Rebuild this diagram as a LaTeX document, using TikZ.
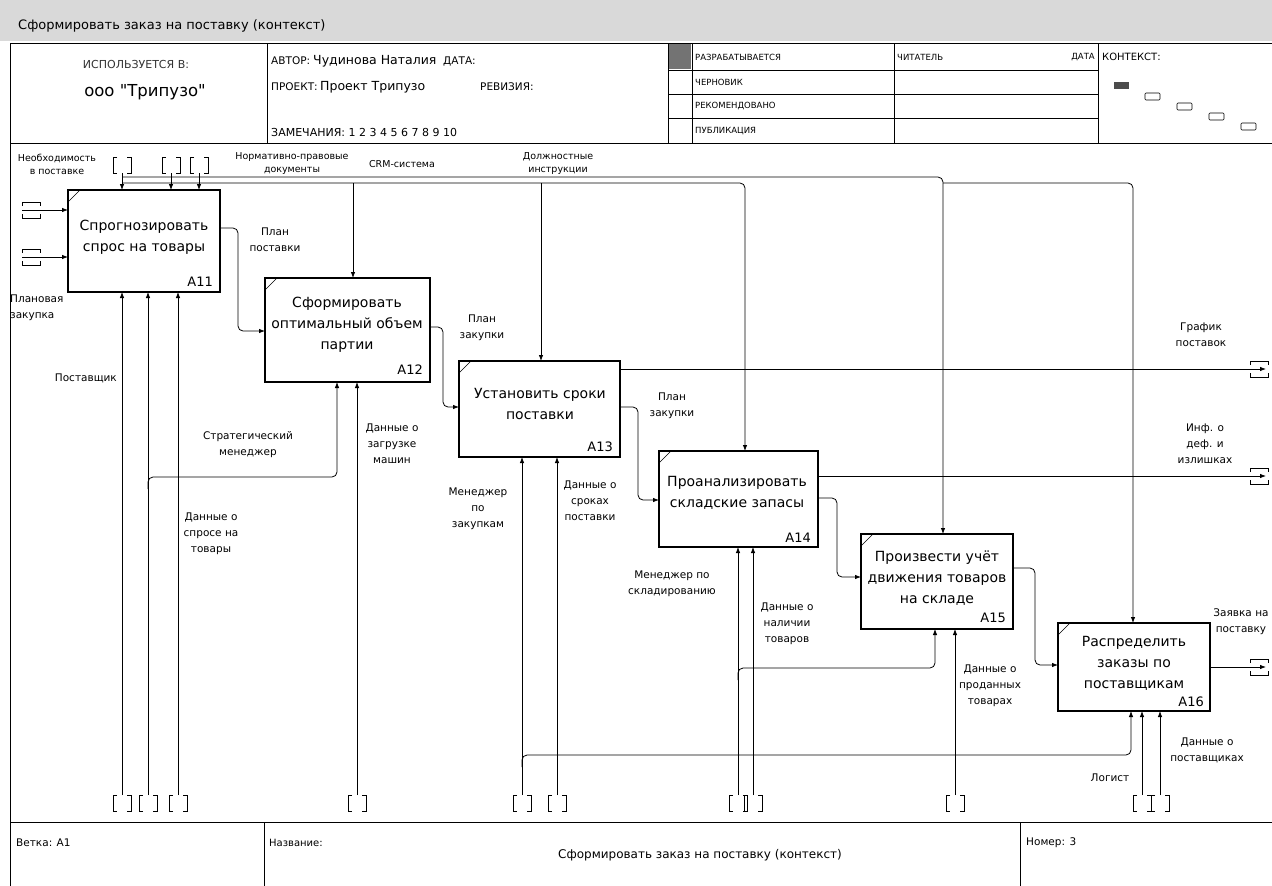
\documentclass[tikz,border=0pt]{standalone}
\usepackage{fontspec}
\setmainfont{DejaVu Sans}[Ligatures=TeXOff]
\usetikzlibrary{arrows.meta}

\tikzset{
  wire/.style={draw=black, line width=0.8pt},
  arr/.style={wire, -{Latex[length=6pt,width=4.5pt]}},
  busarr/.style={arr, rounded corners=5pt},
  bus/.style={wire, rounded corners=5pt},
  actbox/.style={draw=black, line width=1.1pt, fill=white, inner sep=0pt, outer sep=0pt, anchor=north west},
  boxtext/.style={font=\fontsize{14}{21}\selectfont, align=center, inner sep=0pt},
  boxnum/.style={font=\fontsize{13}{15}\selectfont, anchor=east, inner sep=0pt},
  lbl/.style={font=\fontsize{10.5}{16}\selectfont, align=center, inner sep=0pt},
  toplbl/.style={font=\fontsize{9.5}{13}\selectfont, align=center, inner sep=0pt},
  hdr/.style={font=\fontsize{8.5}{10}\selectfont, anchor=west, inner sep=0pt},
  hdrmid/.style={font=\fontsize{10.5}{12}\selectfont, anchor=west, inner sep=0pt},
  big/.style={font=\fontsize{12.5}{14}\selectfont, anchor=west, inner sep=0pt},
  frame/.style={draw=black, line width=1pt},
  tunnel/.style={draw=black, line width=0.8pt},
}
% tunnel brackets around a vertical / horizontal arrow end
\newcommand{\vtunnel}[1]{%
  \draw[tunnel] ([shift={(-5,-8)}]#1) -- ++(-4,0) -- ++(0,16) -- ++(4,0);
  \draw[tunnel] ([shift={(5,-8)}]#1) -- ++(4,0) -- ++(0,16) -- ++(-4,0);}
\newcommand{\htunnel}[1]{%
  \draw[tunnel] ([shift={(-9,-4)}]#1) -- ++(0,-4) -- ++(18,0) -- ++(0,4);
  \draw[tunnel] ([shift={(-9,4)}]#1) -- ++(0,4) -- ++(18,0) -- ++(0,-4);}
% diagonal mark in the upper left corner of an activity box
\newcommand{\cornertick}[1]{%
  \draw[wire, line width=0.6pt] ([yshift=-12pt]#1.north west) -- ([xshift=12pt]#1.north west);}

\begin{document}
\begin{tikzpicture}[x=1pt,y=-1pt]
\useasboundingbox (0,0) rectangle (1272,886);
\fill[white] (0,0) rectangle (1272,886);

% ---------- title bar ----------
\fill[black!15] (0,0) rectangle (1272,41);
\node[font=\fontsize{13}{15}\selectfont, anchor=west, inner sep=0pt] (title) at (18,26)
  {Сформировать заказ на поставку (контекст)};

% ---------- header ----------
\draw[frame] (1272,43) -- (10,43) -- (10,886);
\draw[frame] (10,143) -- (1272,143);
\draw[frame] (267,43) -- (267,143);
\draw[frame] (668,43) -- (668,143);
\draw[frame] (894,43) -- (894,143);
\draw[frame] (1098,43) -- (1098,143);
\draw[wire] (668,70) -- (1098,70) (668,94) -- (1098,94) (668,118) -- (1098,118);
\draw[wire] (692,43) -- (692,143);
\fill[black!55] (669,44) rectangle (691,69);

\node[font=\fontsize{11}{13}\selectfont, text=black!80, inner sep=0pt] (usedin) at (136,64) {ИСПОЛЬЗУЕТСЯ В:};
\node[font=\fontsize{16.5}{18}\selectfont, inner sep=0pt] (org) at (145,92) {ооо "Трипузо"};

\node[hdrmid] (author) at (271,61) {АВТОР:};
\node[big] (authorname) at (313,61) {Чудинова Наталия};
\node[hdrmid] (date) at (443,61) {ДАТА:};
\node[hdrmid] (project) at (271,87) {ПРОЕКТ:};
\node[big] (projectname) at (320,87) {Проект Трипузо};
\node[hdrmid] (rev) at (480,87) {РЕВИЗИЯ:};
\node[font=\fontsize{11}{13}\selectfont, anchor=west, inner sep=0pt] (remarks) at (271,132)
  {ЗАМЕЧАНИЯ: 1 2 3 4 5 6 7 8 9 10};

\node[hdr] (st1) at (695,57) {РАЗРАБАТЫВАЕТСЯ};
\node[hdr] (st2) at (695,82) {ЧЕРНОВИК};
\node[hdr] (st3) at (695,106) {РЕКОМЕНДОВАНО};
\node[hdr] (st4) at (695,131) {ПУБЛИКАЦИЯ};
\node[hdr] (reader) at (897,57) {ЧИТАТЕЛЬ};
\node[hdr, anchor=east] (rdate) at (1095,57) {ДАТА};
\node[font=\fontsize{10}{12}\selectfont, anchor=west, inner sep=0pt] (ctx) at (1102,57) {КОНТЕКСТ:};
\fill[black!70] (1114,82) rectangle (1129,89);
\draw[wire, line width=0.6pt, rounded corners=1pt]
  (1145,93) rectangle (1160,100)
  (1177,103) rectangle (1192,110)
  (1209,113) rectangle (1224,120)
  (1241,123) rectangle (1256,130);

% ---------- footer ----------
\draw[frame] (10,822) -- (1272,822);
\draw[frame] (264,822) -- (264,886);
\draw[frame] (1020,822) -- (1020,886);
\node[hdrmid] (node) at (16,843) {Ветка: А1};
\node[hdrmid, font=\fontsize{10}{12}\selectfont] (name) at (269,843) {Название:};
\node[font=\fontsize{12}{14}\selectfont, inner sep=0pt] (ftitle) at (700,855)
  {Сформировать заказ на поставку (контекст)};
\node[hdrmid] (number) at (1026,843) {Номер: 3};

% ---------- activity boxes ----------
\node[actbox, minimum width=152pt, minimum height=102pt] (A11) at (68,190) {};
\node[actbox, minimum width=165pt, minimum height=104pt] (A12) at (265,278) {};
\node[actbox, minimum width=161pt, minimum height=96pt] (A13) at (459,361) {};
\node[actbox, minimum width=159pt, minimum height=96pt] (A14) at (659,451) {};
\node[actbox, minimum width=152pt, minimum height=95pt] (A15) at (861,534) {};
\node[actbox, minimum width=152pt, minimum height=88pt] (A16) at (1058,623) {};
\foreach \b in {A11,A12,A13,A14,A15,A16} {\cornertick{\b}}

\node[boxtext] (A11t) at (144,237) {Спрогнозировать\\спрос на товары};
\node[boxnum] (A11n) at (213,282) {A11};
\node[boxtext] (A12t) at (347,325) {Сформировать\\оптимальный объем\\партии};
\node[boxnum] (A12n) at (423,370) {A12};
\node[boxtext] (A13t) at (540,404) {Установить сроки\\поставки};
\node[boxnum] (A13n) at (613,447) {A13};
\node[boxtext] (A14t) at (737,493) {Проанализировать\\складские запасы};
\node[boxnum] (A14n) at (811,538) {A14};
\node[boxtext] (A15t) at (937,578) {Произвести учёт\\движения товаров\\на складе};
\node[boxnum] (A15n) at (1006,618) {A15};
\node[boxtext] (A16t) at (1134,663) {Распределить\\заказы по\\поставщикам};
\node[boxnum] (A16n) at (1204,702) {A16};

% ---------- tunnel ends ----------
\coordinate (tc1) at (122,165);
\coordinate (tc2) at (171,165);
\coordinate (tc3) at (199,165);
\coordinate (ti1) at (31,210);
\coordinate (ti2) at (31,257);
\coordinate (to1) at (1259,369);
\coordinate (to2) at (1259,476);
\coordinate (to3) at (1259,667);
\foreach \c in {tc1,tc2,tc3} {\vtunnel{\c}}
\foreach \c in {ti1,ti2,to1,to2,to3} {\htunnel{\c}}

\coordinate (tm1) at (122,803);
\coordinate (tm2) at (148,803);
\coordinate (tm3) at (178,803);
\coordinate (tm4) at (357,803);
\coordinate (tm5) at (522,803);
\coordinate (tm6) at (557,803);
\coordinate (tm7) at (738,803);
\coordinate (tm8) at (753,803);
\coordinate (tm9) at (955,803);
\coordinate (tm10) at (1142,803);
\coordinate (tm11) at (1160,803);
\foreach \c in {tm1,tm2,tm3,tm4,tm5,tm6,tm7,tm8,tm9,tm10,tm11} {\vtunnel{\c}}

% ---------- inputs of A11 ----------
\draw[arr] ([xshift=-9pt]ti1) -- (A11.west |- ti1);
\draw[arr] ([xshift=-9pt]ti2) -- (A11.west |- ti2);

% ---------- controls ----------
\draw[arr] ([yshift=-8pt]tc1) -- (A11.north -| tc1);
\draw[arr] ([yshift=-8pt]tc2) -- (A11.north -| tc2);
\draw[arr] ([yshift=-8pt]tc3) -- (A11.north -| tc3);
\coordinate (busA) at (122,177);
\coordinate (busB) at (122,183);
\coordinate (dA15) at (943,534);
\coordinate (dA14) at (745,449);
\coordinate (dA16) at (1133,622);
\coordinate (dA12) at (353,278);
\coordinate (dA13) at (541,361);
\draw[busarr] (busA) -- (busA -| dA15) -- (A15.north -| dA15);
\draw[busarr] (busB) -- (busB -| dA14) -- (A14.north -| dA14);
\draw[busarr] (busB -| dA15) -- (busB -| dA16) -- (A16.north -| dA16);
\draw[arr] (busB -| dA12) -- (A12.north -| dA12);
\draw[arr] (busB -| dA13) -- (A13.north -| dA13);

% ---------- flows between activities ----------
\coordinate (k1) at (238,228);
\coordinate (k1b) at (238,331);
\draw[busarr] (A11.east |- k1) -- (k1) -- (k1b) -- (A12.west |- k1b);
\coordinate (k2) at (443,327);
\coordinate (k2b) at (443,407);
\draw[busarr] (A12.east |- k2) -- (k2) -- (k2b) -- (A13.west |- k2b);
\coordinate (k3) at (638,407);
\coordinate (k3b) at (638,500);
\draw[busarr] (A13.east |- k3) -- (k3) -- (k3b) -- (A14.west |- k3b);
\coordinate (k4) at (837,498);
\coordinate (k4b) at (837,577);
\draw[busarr] (A14.east |- k4) -- (k4) -- (k4b) -- (A15.west |- k4b);
\coordinate (k5) at (1035,568);
\coordinate (k5b) at (1035,665);
\draw[busarr] (A15.east |- k5) -- (k5) -- (k5b) -- (A16.west |- k5b);

% ---------- outputs ----------
\draw[arr] (A13.east |- to1) -- ([xshift=7pt]to1);
\draw[arr] (A14.east |- to2) -- ([xshift=7pt]to2);
\draw[arr] (A16.east |- to3) -- ([xshift=7pt]to3);

% ---------- mechanisms ----------
\foreach \c/\b in {tm1/A11,tm2/A11,tm3/A11,tm4/A12,tm5/A13,tm6/A13,tm7/A14,tm8/A14,tm9/A15,tm10/A16,tm11/A16}
  {\draw[arr] ([yshift=8pt]\c) -- (\b.south -| \c);}
\coordinate (m1) at (148,477);
\coordinate (m1e) at (337,477);
\draw[busarr] ([yshift=-12pt]m1) -- (m1) -- (m1e) -- (A12.south -| m1e);
\coordinate (m2) at (522,755);
\coordinate (m2e) at (1131,755);
\draw[busarr] ([yshift=-12pt]m2) -- (m2) -- (m2e) -- (A16.south -| m2e);
\coordinate (m3) at (738,668);
\coordinate (m3e) at (935,668);
\draw[busarr] ([yshift=-12pt]m3) -- (m3) -- (m3e) -- (A15.south -| m3e);

% ---------- arrow labels ----------
\node[toplbl] (lneed) at (57,164) {Необходимость\\в поставке};
\node[toplbl] (lnorm) at (292,164) {Нормативно-правовые\\документы};
\node[toplbl] (lcrm) at (402,164) {CRM-система};
\node[toplbl] (ljob) at (558,164) {Должностные\\инструкции};
\node[lbl, align=left, anchor=west] (lplan) at (10,308) {Плановая\\закупка};
\node[lbl] (l1) at (275,240) {План\\поставки};
\node[lbl] (l2) at (482,328) {План\\закупки};
\node[lbl] (l3) at (672,406) {План\\закупки};
\node[lbl] (l4) at (1201,335) {График\\поставок};
\node[lbl] (l5) at (1205,444) {Инф. о\\деф. и\\излишках};
\node[lbl] (l6) at (1241,622) {Заявка на\\поставку};
\node[lbl, anchor=east] (l7) at (117,378) {Поставщик};
\node[lbl] (l8) at (248,445) {Стратегический\\менеджер};
\node[lbl] (l9) at (392,444) {Данные о\\загрузке\\машин};
\node[lbl] (l10) at (211,534) {Данные о\\спросе на\\товары};
\node[lbl] (l11) at (478,509) {Менеджер\\по\\закупкам};
\node[lbl] (l12) at (590,501) {Данные о\\сроках\\поставки};
\node[lbl] (l13) at (672,584) {Менеджер по\\складированию};
\node[lbl] (l14) at (787,624) {Данные о\\наличии\\товаров};
\node[lbl] (l15) at (990,686) {Данные о\\проданных\\товарах};
\node[lbl] (l16) at (1110,778) {Логист};
\node[lbl] (l17) at (1207,750) {Данные о\\поставщиках};
\end{tikzpicture}
\end{document}
